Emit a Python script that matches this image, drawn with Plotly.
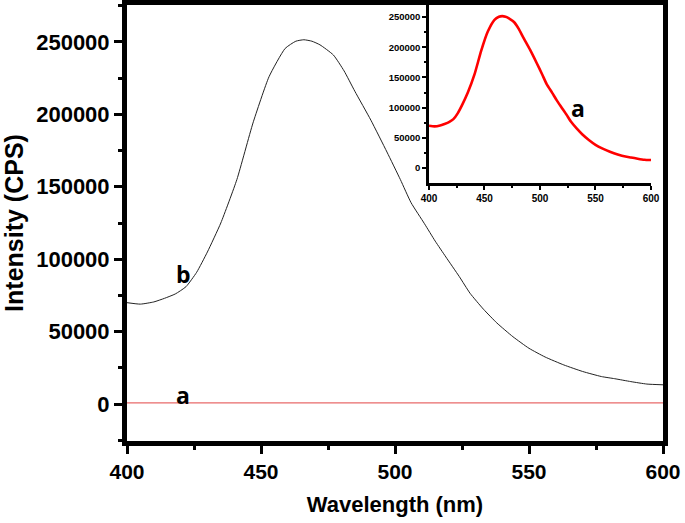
import plotly.graph_objects as go

# Wavelength (nm) and intensity (CPS)
wavelength_b = [400, 405, 410, 414, 418, 422, 426, 430, 435, 441, 447, 453, 459, 463, 466, 469, 472, 477, 481, 485, 491, 497, 502, 506, 511, 515, 519, 524, 528, 533, 538, 544, 550, 556, 563, 570, 577, 582, 588, 594, 600]
intensity_b = [70000, 69000, 70500, 73000, 76000, 81000, 91000, 105000, 125000, 155000, 194000, 226000, 245500, 250500, 251500, 250500, 248000, 241000, 230000, 216000, 196000, 174000, 155000, 139000, 124500, 112500, 101500, 88000, 76500, 65500, 56000, 46500, 38500, 32500, 27000, 22500, 19000, 17500, 15500, 13800, 13300]
wavelength_a = [400, 600]
intensity_a = [800, 800]

x_ticks = [400, 450, 500, 550, 600]
y_ticks = [0, 50000, 100000, 150000, 200000, 250000]
y_ticklabels = [str(v) for v in y_ticks]
x_ticklabels = [str(v) for v in x_ticks]

FONT = "Arial, Liberation Sans, sans-serif"
LABEL_FONT = "Open Sans, " + FONT

fig = go.Figure()
fig.add_trace(go.Scatter(x=wavelength_b, y=intensity_b, mode="lines",
                         line=dict(color="#222222", width=1, shape="spline", smoothing=0.5),
                         xaxis="x", yaxis="y", showlegend=False))
fig.add_trace(go.Scatter(x=wavelength_a, y=intensity_a, mode="lines",
                         line=dict(color="#e86a6a", width=1.2),
                         xaxis="x", yaxis="y", showlegend=False))
# inset: spectrum a magnified
fig.add_trace(go.Scatter(x=wavelength_b, y=intensity_b, mode="lines",
                         line=dict(color="#ff0000", width=2.6, shape="spline", smoothing=0.5),
                         xaxis="x2", yaxis="y2", showlegend=False))

fig.add_annotation(x=421, y=90000, xref="x", yref="y", text="<b>b</b>", showarrow=False,
                   font=dict(family=LABEL_FONT, size=23, color="black"))
fig.add_annotation(x=421, y=6500, xref="x", yref="y", text="<b>a</b>", showarrow=False,
                   font=dict(family=LABEL_FONT, size=23, color="black"))
fig.add_annotation(x=534, y=100000, xref="x2", yref="y2", text="<b>a</b>", showarrow=False,
                   font=dict(family=LABEL_FONT, size=23, color="black"))

axis_common = dict(showgrid=False, zeroline=False, linecolor="black", ticks="outside",
                   tickcolor="black", automargin=False)

fig.update_layout(
    width=685, height=523,
    margin=dict(l=127, r=22, t=5, b=82),
    paper_bgcolor="white", plot_bgcolor="white",
    font=dict(family=FONT, color="black"),
    xaxis=dict(axis_common, domain=[0, 1], range=[400, 600],
               tickvals=x_ticks, ticktext=x_ticklabels,
               linewidth=5, mirror=True, ticklen=8, tickwidth=3,
               minor=dict(dtick=25, ticklen=4, tickwidth=3, ticks="outside", tickcolor="black"),
               tickfont=dict(size=21, family=FONT, weight="bold"),
               title=dict(text="<b>Wavelength (nm)</b>", font=dict(size=22), standoff=16)),
    yaxis=dict(axis_common, domain=[0, 1], range=[-25500, 275500],
               tickvals=y_ticks, ticktext=y_ticklabels,
               linewidth=5, mirror=True, ticklen=8, tickwidth=3,
               minor=dict(dtick=25000, ticklen=4, tickwidth=3, ticks="outside", tickcolor="black"),
               tickfont=dict(size=22, family=FONT, weight="bold"),
               title=dict(text="<b>Intensity (CPS)</b>", font=dict(size=25), standoff=10)),
    xaxis2=dict(axis_common, domain=[0.5634, 0.9776], anchor="y2", range=[400, 600],
                tickvals=x_ticks, ticktext=x_ticklabels,
                linewidth=2.5, mirror=False, ticklen=4, tickwidth=2,
                minor=dict(dtick=25, ticklen=2, tickwidth=2, ticks="outside", tickcolor="black"),
                tickfont=dict(size=10, family=FONT, weight="bold")),
    yaxis2=dict(axis_common, domain=[0.5917, 1.0], anchor="x2", range=[-24800, 270000],
                tickvals=y_ticks, ticktext=y_ticklabels,
                linewidth=2.5, mirror=False, ticklen=4, tickwidth=2,
                minor=dict(dtick=25000, ticklen=2, tickwidth=2, ticks="outside", tickcolor="black"),
                tickfont=dict(size=9.5, family=FONT, weight="bold")),
)

fig.write_html("out.html", config={"displayModeBar": False},
               post_script="document.body.style.margin='0';document.body.style.overflow='hidden';")
